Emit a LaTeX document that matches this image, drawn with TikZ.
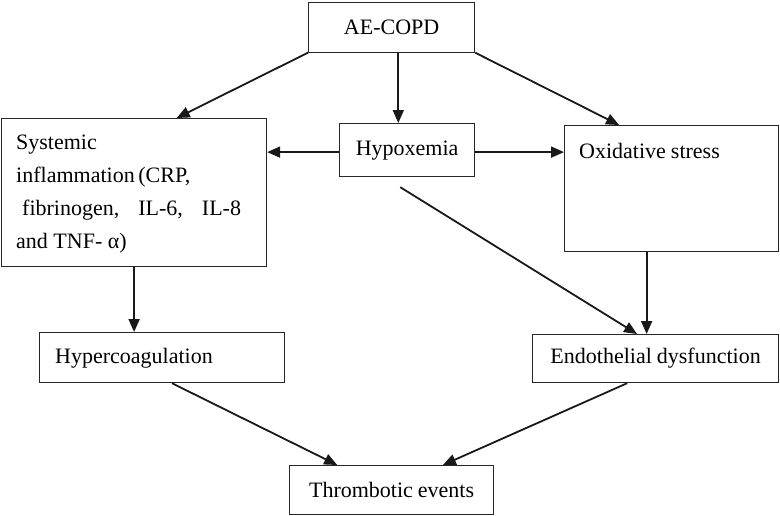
\documentclass[tikz,border=0pt]{standalone}
\usepackage{fontspec}
\setmainfont{Liberation Serif}
\usetikzlibrary{arrows.meta,calc}
\begin{document}
\begin{tikzpicture}[x=1pt,y=1pt,
  box/.style={draw=black!85,line width=1.2pt,inner sep=0pt,anchor=north west,
    font=\fontsize{22}{33}\selectfont},
  lbl/.style={inner sep=0pt,font=\fontsize{22}{33}\selectfont},
  arr/.style={line width=1.8pt,black!90,-{Triangle[length=13pt,width=11pt]}}]
\useasboundingbox (0,0) rectangle (780,-515);
% boxes
\node[box,minimum width=166,minimum height=50] (ae) at (308,-1.5) {AE-COPD};
\node[box,minimum width=265,minimum height=148] (sys) at (1,-118) {};
\node[box,minimum width=135,minimum height=53] (hyp) at (339,-123) {Hypoxemia};
\node[box,minimum width=214,minimum height=126] (oxi) at (564,-125) {};
\node[box,minimum width=245,minimum height=50] (hyc) at (39,-332) {};
\node[box,minimum width=246,minimum height=48] (end) at (532,-334) {Endothelial\hspace{5pt}dysfunction};
\node[box,minimum width=204,minimum height=49] (thr) at (289,-465) {Thrombotic\hspace{5pt}events};
% texts
\node[lbl,anchor=north west,align=left] (syst) at (16,-135)
  {Systemic\\inflammation\,(CRP,\\\hspace{6pt}fibrinogen,\hspace{19pt}IL-6,\hspace{19pt}IL-8\\and TNF- α)};
\node[lbl,anchor=base west] (oxit) at ($(oxi.north west)+(15,-33)$) {Oxidative\hspace{5pt}stress};
\node[lbl,anchor=base west] (hyct) at ($(hyc.north west)+(16,-31)$) {Hypercoagulation};
% connectors
\draw[arr] (ae.south west) -- ($(sys.north west)!0.66!(sys.north east)$);
\coordinate (a2) at ($(ae.south west)!0.54!(ae.south east)$);
\draw[arr] (a2) -- (a2 |- hyp.north);
\draw[arr] (ae.south east) -- ($(oxi.north west)!0.256!(oxi.north east)$);
\draw[arr] ($(hyp.west)+(0,-2)$) -- ($(hyp.west -| sys.east)+(0,-2)$);
\draw[arr] ($(hyp.east)+(0,-2)$) -- ($(hyp.east -| oxi.west)+(0,-2)$);
\draw[arr] ($(hyp.south west)!0.45!(hyp.south east)+(0,-10)$) -- ($(end.north west)!0.425!(end.north east)$);
\coordinate (a7) at ($(oxi.south west)!0.384!(oxi.south east)$);
\draw[arr] (a7) -- (a7 |- end.north);
\draw[arr] (sys.south) -- (sys.south |- hyc.north);
\draw[arr] ($(hyc.south west)!0.54!(hyc.south east)$) -- ($(thr.north west)!0.235!(thr.north east)$);
\draw[arr] ($(end.south west)!0.385!(end.south east)$) -- ($(thr.north west)!0.75!(thr.north east)$);
\end{tikzpicture}
\end{document}
